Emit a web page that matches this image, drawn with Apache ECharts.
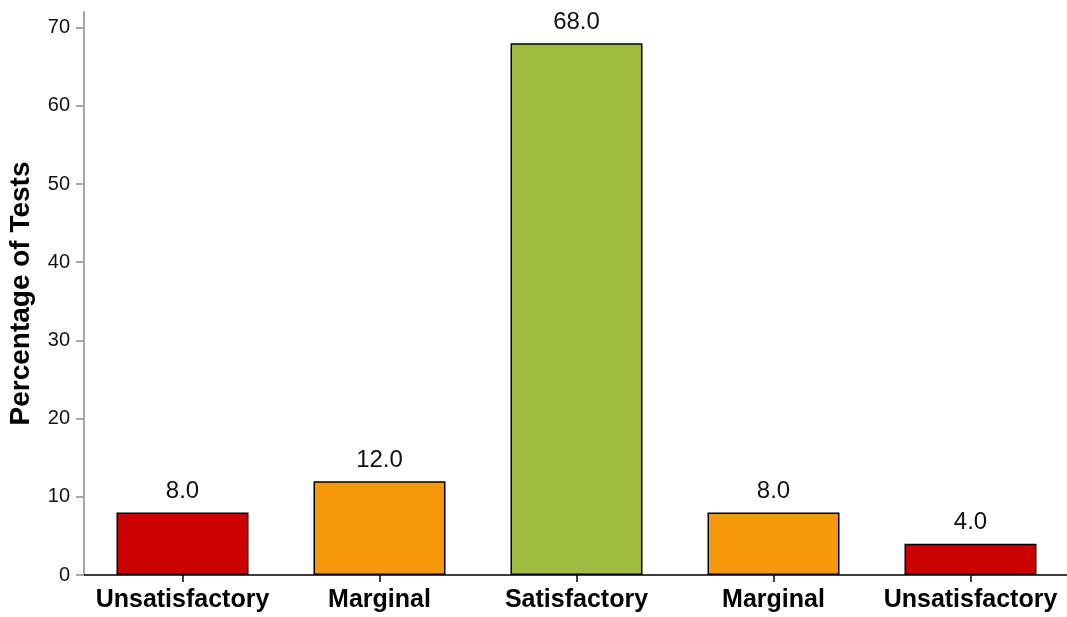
<!DOCTYPE html>
<html><head><meta charset="utf-8">
<script src="https://cdn.jsdelivr.net/npm/echarts@6/dist/echarts.min.js"></script>
<style>html,body{margin:0;padding:0;background:#fff}#c{width:1067px;height:617px}</style>
</head><body><div id="c"></div>
<script>
const categories = ['Unsatisfactory','Marginal','Satisfactory','Marginal','Unsatisfactory'];
const values = [8.0, 12.0, 68.0, 8.0, 4.0];
const barColors = ['#CC0000','#F5980A','#A0BD41','#F5980A','#CC0000'];
const yTicks = [0,10,20,30,40,50,60,70];
const FF = '"Liberation Sans", Arial, sans-serif';

const chart = echarts.init(document.getElementById('c'), null, {renderer:'canvas'});
chart.setOption({
  animation:false,
  backgroundColor:'#fff',
  grid:{left:84, top:12, width:985, bottom:42, containLabel:false, outerBoundsMode:'none'},
  xAxis:{
    type:'category', data:categories,
    axisLine:{lineStyle:{color:'#000', width:1.5}},
    axisTick:{show:true, alignWithLabel:true, length:7, lineStyle:{color:'#000', width:1.5}, interval:0},
    axisLabel:{color:'#000', fontSize:25, fontWeight:'bold', fontFamily:FF, margin:13, interval:0}
  },
  yAxis:{
    type:'value', min:0, max:72,
    name:'Percentage of Tests', nameLocation:'middle', nameGap:49,
    nameTextStyle:{color:'#000', fontSize:28, fontWeight:'bold', fontFamily:FF},
    axisLine:{show:true, lineStyle:{color:'#A6A6A6', width:2}},
    axisTick:{show:true, length:8, lineStyle:{color:'#A6A6A6', width:2}, customValues:yTicks},
    axisLabel:{color:'#111', fontSize:20, fontFamily:FF, margin:14, customValues:yTicks},
    splitLine:{show:false}
  },
  series:[{
    type:'bar', barWidth:'67%',
    data: values.map((v,i)=>({value:v, itemStyle:{color:barColors[i]}})),
    itemStyle:{borderColor:'#000', borderWidth:1.5},
    label:{show:true, position:'top', distance:9, color:'#111', fontSize:24, fontFamily:FF,
      formatter:p=>p.value.toFixed(1)}
  }]
});
</script></body></html>
